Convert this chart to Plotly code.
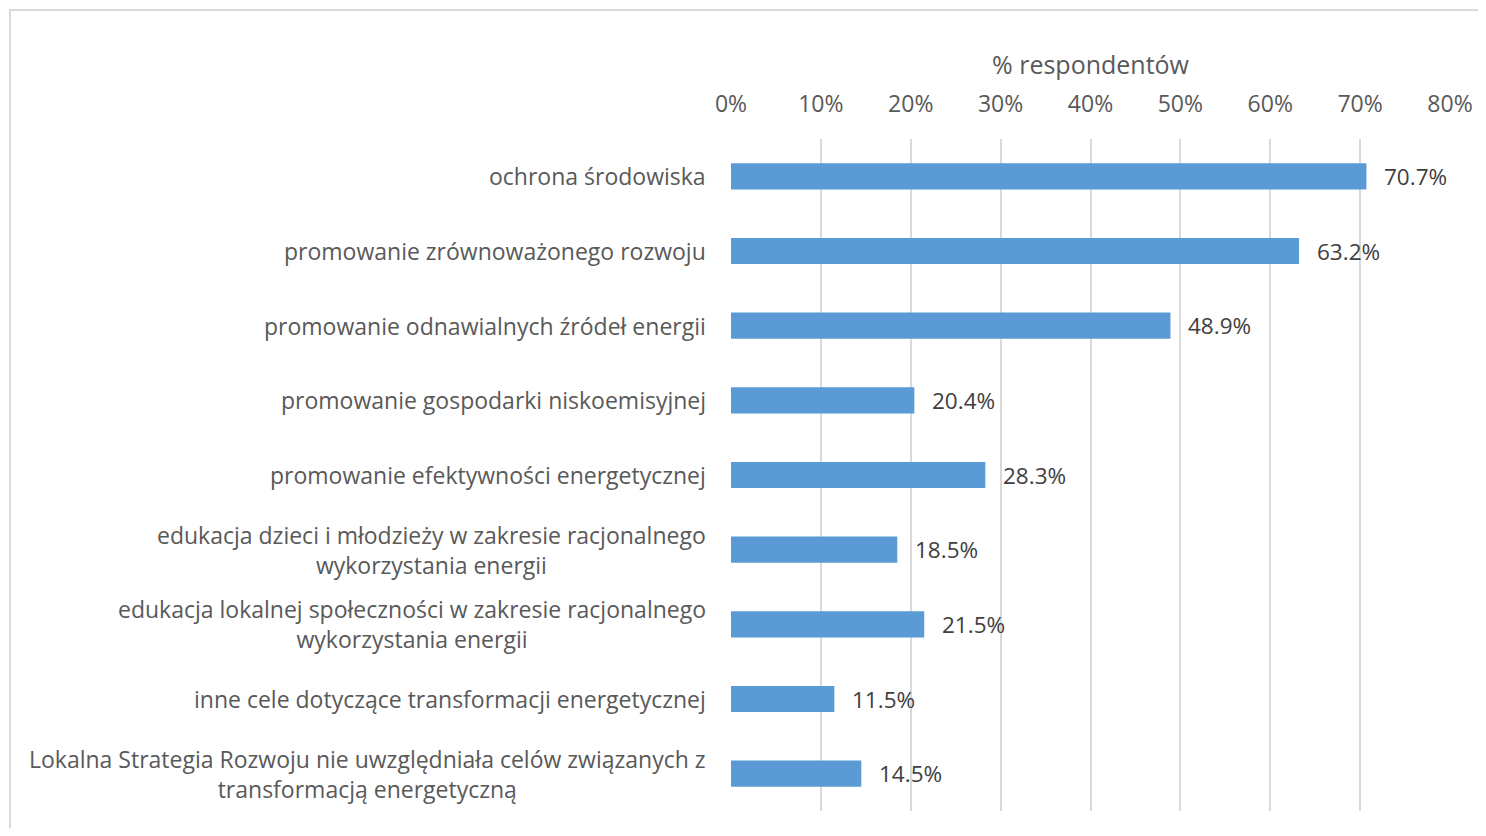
import plotly.graph_objects as go

categories = [
    "ochrona środowiska",
    "promowanie zrównoważonego rozwoju",
    "promowanie odnawialnych źródeł energii",
    "promowanie gospodarki niskoemisyjnej",
    "promowanie efektywności energetycznej",
    "edukacja dzieci i młodzieży w zakresie racjonalnego<br>wykorzystania energii",
    "edukacja lokalnej społeczności w zakresie racjonalnego<br>wykorzystania energii",
    "inne cele dotyczące transformacji energetycznej",
    "Lokalna Strategia Rozwoju nie uwzględniała celów związanych z<br>transformacją energetyczną",
]
values = [70.7, 63.2, 48.9, 20.4, 28.3, 18.5, 21.5, 11.5, 14.5]
tick_vals = [0, 10, 20, 30, 40, 50, 60, 70, 80]
tick_text = [f"{v}%" for v in tick_vals]

FONT = "Open Sans, sans-serif"
OFF = 8  # page body margin
W, H = 1486 - OFF, 836 - 2 * OFF
L, T = 731 - OFF, 139 - OFF
R = W - (1450 - OFF)
B = H - (811 - OFF)

fig = go.Figure()
fig.add_trace(go.Bar(
    x=values, y=categories, orientation="h",
    marker=dict(color="#5B9BD5", line=dict(width=0)),
    width=0.35, hoverinfo="skip",
))

annotations = []
for c, v in zip(categories, values):
    annotations.append(dict(
        x=v, y=c, xref="x", yref="y", text=f"{v:.1f}%", showarrow=False,
        xanchor="left", xshift=16, font=dict(family=FONT, size=22.5, color="#404040"),
    ))
    annotations.append(dict(
        x=0, y=c, xref="paper", yref="y", text=c, showarrow=False,
        xanchor="right", xshift=-23, align="center",
        font=dict(family=FONT, size=23, color="#595959"),
    ))

pw, ph = W - L - R, H - T - B
fig.add_shape(type="rect", xref="paper", yref="paper",
              x0=(2 - L) / pw, x1=(W + 10 - L) / pw,
              y0=(H - B - (H + 10)) / ph, y1=(H - B - 2) / ph,
              line=dict(color="#D9D9D9", width=2), fillcolor="rgba(0,0,0,0)", layer="below")

fig.update_layout(
    width=W, height=H,
    margin=dict(l=L, r=R, t=T, b=B),
    paper_bgcolor="white", plot_bgcolor="white",
    showlegend=False,
    annotations=annotations,
    xaxis=dict(
        side="top", range=[0, 80], tickvals=tick_vals, ticktext=tick_text,
        showgrid=True, gridcolor="#D9D9D9", gridwidth=2, zeroline=False,
        showline=False, ticks="", ticklabelstandoff=21,
        tickfont=dict(family=FONT, size=23, color="#595959"),
        title=dict(text="% respondentów", standoff=5,
                   font=dict(family=FONT, size=25, color="#595959")),
    ),
    yaxis=dict(
        autorange="reversed", showticklabels=False, showgrid=False,
        zeroline=False, showline=False, ticks="",
    ),
)

fig.write_html("out.html")
